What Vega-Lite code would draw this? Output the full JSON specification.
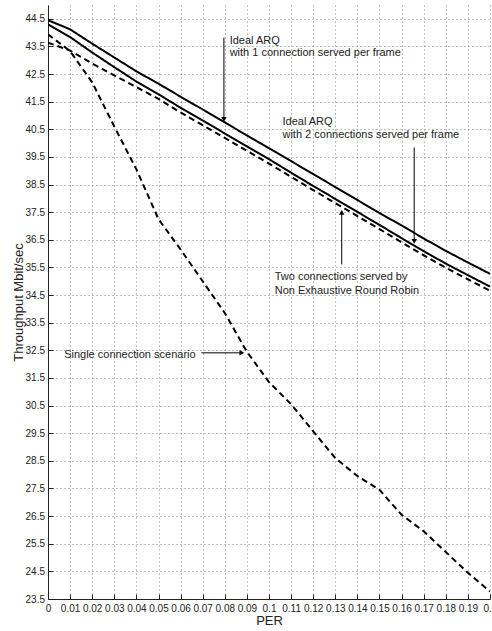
{
  "$schema": "https://vega.github.io/schema/vega-lite/v6.json",
  "width": 442,
  "height": 594,
  "autosize": "none",
  "padding": {"left": 48, "top": 5, "right": 2, "bottom": 32},
  "background": "white",
  "config": {
    "view": {"stroke": null},
    "font": "Liberation Sans",
    "axis": {
      "labelFont": "Liberation Sans",
      "titleFont": "Liberation Sans",
      "labelFontSize": 10,
      "labelColor": "#222",
      "titleFontSize": 13,
      "titleFontWeight": "normal",
      "titleColor": "#222",
      "domainColor": "#222",
      "tickColor": "#222",
      "gridColor": "#808080",
      "gridDash": [1, 3],
      "gridWidth": 1,
      "gridOpacity": 1
    }
  },
  "datasets": {
    "curves": [
      {"s": "ARQ1", "p": 0, "v": 44.45}, {"s": "ARQ1", "p": 0.01, "v": 44.12}, {"s": "ARQ1", "p": 0.02, "v": 43.6}, {"s": "ARQ1", "p": 0.03, "v": 43.1}, {"s": "ARQ1", "p": 0.04, "v": 42.6}, {"s": "ARQ1", "p": 0.05, "v": 42.15}, {"s": "ARQ1", "p": 0.06, "v": 41.68}, {"s": "ARQ1", "p": 0.07, "v": 41.22}, {"s": "ARQ1", "p": 0.08, "v": 40.75}, {"s": "ARQ1", "p": 0.09, "v": 40.28}, {"s": "ARQ1", "p": 0.1, "v": 39.82}, {"s": "ARQ1", "p": 0.11, "v": 39.35}, {"s": "ARQ1", "p": 0.12, "v": 38.88}, {"s": "ARQ1", "p": 0.13, "v": 38.41}, {"s": "ARQ1", "p": 0.14, "v": 37.94}, {"s": "ARQ1", "p": 0.15, "v": 37.47}, {"s": "ARQ1", "p": 0.16, "v": 37.02}, {"s": "ARQ1", "p": 0.17, "v": 36.55}, {"s": "ARQ1", "p": 0.18, "v": 36.1}, {"s": "ARQ1", "p": 0.19, "v": 35.68}, {"s": "ARQ1", "p": 0.2, "v": 35.27},
      {"s": "ARQ2", "p": 0, "v": 44.3}, {"s": "ARQ2", "p": 0.01, "v": 43.84}, {"s": "ARQ2", "p": 0.02, "v": 43.28}, {"s": "ARQ2", "p": 0.03, "v": 42.75}, {"s": "ARQ2", "p": 0.04, "v": 42.23}, {"s": "ARQ2", "p": 0.05, "v": 41.77}, {"s": "ARQ2", "p": 0.06, "v": 41.28}, {"s": "ARQ2", "p": 0.07, "v": 40.82}, {"s": "ARQ2", "p": 0.08, "v": 40.35}, {"s": "ARQ2", "p": 0.09, "v": 39.88}, {"s": "ARQ2", "p": 0.1, "v": 39.42}, {"s": "ARQ2", "p": 0.11, "v": 38.93}, {"s": "ARQ2", "p": 0.12, "v": 38.45}, {"s": "ARQ2", "p": 0.13, "v": 37.98}, {"s": "ARQ2", "p": 0.14, "v": 37.51}, {"s": "ARQ2", "p": 0.15, "v": 37.04}, {"s": "ARQ2", "p": 0.16, "v": 36.56}, {"s": "ARQ2", "p": 0.17, "v": 36.09}, {"s": "ARQ2", "p": 0.18, "v": 35.64}, {"s": "ARQ2", "p": 0.19, "v": 35.22}, {"s": "ARQ2", "p": 0.2, "v": 34.81},
      {"s": "NERR", "p": 0, "v": 43.64}, {"s": "NERR", "p": 0.01, "v": 43.35}, {"s": "NERR", "p": 0.02, "v": 42.88}, {"s": "NERR", "p": 0.03, "v": 42.45}, {"s": "NERR", "p": 0.04, "v": 42.03}, {"s": "NERR", "p": 0.05, "v": 41.6}, {"s": "NERR", "p": 0.06, "v": 41.11}, {"s": "NERR", "p": 0.07, "v": 40.65}, {"s": "NERR", "p": 0.08, "v": 40.19}, {"s": "NERR", "p": 0.09, "v": 39.72}, {"s": "NERR", "p": 0.1, "v": 39.26}, {"s": "NERR", "p": 0.11, "v": 38.78}, {"s": "NERR", "p": 0.12, "v": 38.3}, {"s": "NERR", "p": 0.13, "v": 37.83}, {"s": "NERR", "p": 0.14, "v": 37.36}, {"s": "NERR", "p": 0.15, "v": 36.89}, {"s": "NERR", "p": 0.16, "v": 36.41}, {"s": "NERR", "p": 0.17, "v": 35.94}, {"s": "NERR", "p": 0.18, "v": 35.49}, {"s": "NERR", "p": 0.19, "v": 35.07}, {"s": "NERR", "p": 0.2, "v": 34.66},
      {"s": "Single", "p": 0, "v": 43.94}, {"s": "Single", "p": 0.01, "v": 43.33}, {"s": "Single", "p": 0.02, "v": 42.2}, {"s": "Single", "p": 0.03, "v": 40.6}, {"s": "Single", "p": 0.04, "v": 39.05}, {"s": "Single", "p": 0.05, "v": 37.25}, {"s": "Single", "p": 0.06, "v": 36.15}, {"s": "Single", "p": 0.07, "v": 35.0}, {"s": "Single", "p": 0.08, "v": 33.85}, {"s": "Single", "p": 0.09, "v": 32.45}, {"s": "Single", "p": 0.1, "v": 31.35}, {"s": "Single", "p": 0.11, "v": 30.55}, {"s": "Single", "p": 0.12, "v": 29.57}, {"s": "Single", "p": 0.13, "v": 28.6}, {"s": "Single", "p": 0.14, "v": 27.95}, {"s": "Single", "p": 0.15, "v": 27.45}, {"s": "Single", "p": 0.16, "v": 26.55}, {"s": "Single", "p": 0.17, "v": 25.95}, {"s": "Single", "p": 0.18, "v": 25.2}, {"s": "Single", "p": 0.19, "v": 24.45}, {"s": "Single", "p": 0.2, "v": 23.77}
    ],
    "arrows": [
      {"p": 0.0796, "v": 43.82, "p2": 0.0796, "v2": 40.86},
      {"p": 0.1657, "v": 39.84, "p2": 0.1657, "v2": 36.44},
      {"p": 0.1329, "v": 35.61, "p2": 0.1329, "v2": 37.49},
      {"p": 0.0694, "v": 32.41, "p2": 0.0877, "v2": 32.41}
    ],
    "heads": [
      {"p": 0.0796, "v": 40.86, "dir": "down"},
      {"p": 0.1657, "v": 36.44, "dir": "down"},
      {"p": 0.1329, "v": 37.49, "dir": "up"},
      {"p": 0.0877, "v": 32.41, "dir": "right"}
    ],
    "notes": [
      {"p": 0.0822, "v": 43.68, "t": "Ideal ARQ"},
      {"p": 0.0822, "v": 43.25, "t": "with 1 connection served per frame"},
      {"p": 0.1061, "v": 40.78, "t": "Ideal ARQ"},
      {"p": 0.1061, "v": 40.3, "t": "with 2 connections served per frame"},
      {"p": 0.1026, "v": 35.14, "t": "Two connections served by"},
      {"p": 0.1026, "v": 34.66, "t": "Non Exhaustive Round Robin"},
      {"p": 0.0073, "v": 32.32, "t": "Single connection scenario"}
    ]
  },
  "encoding": {
    "x": {
      "field": "p", "type": "quantitative",
      "scale": {"domain": [0, 0.2], "nice": false, "zero": false},
      "axis": {
        "title": "PER",
        "values": [0, 0.01, 0.02, 0.03, 0.04, 0.05, 0.06, 0.07, 0.08, 0.09, 0.1, 0.11, 0.12, 0.13, 0.14, 0.15, 0.16, 0.17, 0.18, 0.19, 0.2],
        "format": "~g",
        "tickSize": -5,
        "labelPadding": 9,
        "titlePadding": 1,
        "labelFlush": false,
        "labelOverlap": false
      }
    },
    "y": {
      "field": "v", "type": "quantitative",
      "scale": {"domain": [23.5, 45], "nice": false, "zero": false},
      "axis": {
        "title": "Throughput  Mbit/sec",
        "values": [23.5, 24.5, 25.5, 26.5, 27.5, 28.5, 29.5, 30.5, 31.5, 32.5, 33.5, 34.5, 35.5, 36.5, 37.5, 38.5, 39.5, 40.5, 41.5, 42.5, 43.5, 44.5],
        "format": ".1f",
        "tickSize": -5,
        "labelPadding": 8.5,
        "titlePadding": 0,
        "labelFlush": false,
        "labelOverlap": false
      }
    }
  },
  "layer": [
    {
      "data": {"name": "curves"},
      "mark": {"type": "line", "color": "black", "strokeWidth": 2, "clip": true},
      "encoding": {
        "detail": {"field": "s"},
        "strokeDash": {
          "field": "s", "type": "nominal",
          "scale": {"domain": ["ARQ1", "ARQ2", "NERR", "Single"], "range": [[1, 0], [1, 0], [6, 4], [6, 4]]},
          "legend": null
        }
      }
    },
    {
      "data": {"name": "arrows"},
      "mark": {"type": "rule", "color": "black", "strokeWidth": 1},
      "encoding": {
        "x2": {"field": "p2"},
        "y2": {"field": "v2"}
      }
    },
    {
      "data": {"name": "heads"},
      "mark": {"type": "point", "filled": true, "color": "black", "opacity": 1, "size": 30},
      "encoding": {
        "shape": {
          "field": "dir", "type": "nominal",
          "scale": {"domain": ["down", "up", "right"], "range": ["triangle-down", "triangle-up", "triangle-right"]},
          "legend": null
        }
      }
    },
    {
      "data": {"name": "notes"},
      "mark": {"type": "text", "align": "left", "baseline": "middle", "font": "Liberation Sans", "fontSize": 11, "color": "#222"},
      "encoding": {
        "text": {"field": "t"}
      }
    }
  ]
}
